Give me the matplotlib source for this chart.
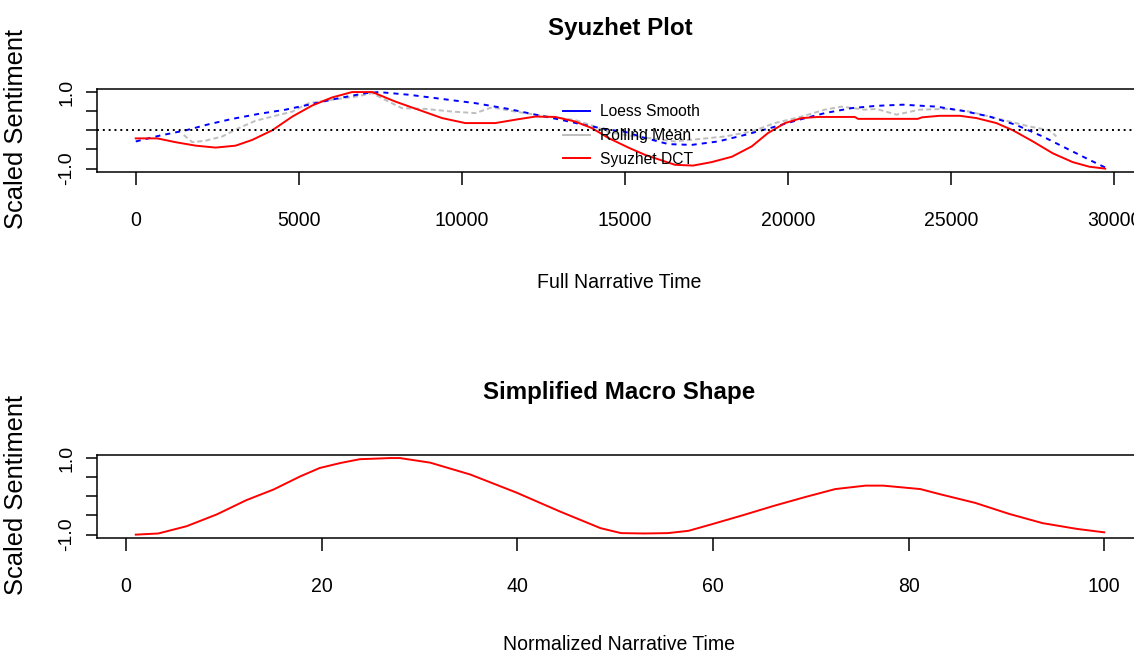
import matplotlib
matplotlib.use("Agg")
import matplotlib.pyplot as plt
from matplotlib import font_manager
from matplotlib.lines import Line2D

### DATA ###
# Full narrative time (sentence index) against scaled sentiment
loess_time = [0, 720, 1530, 2240, 2960, 3770, 4590, 5410, 6220, 7040, 7450, 8370, 9390,
              10410, 11420, 12250, 13060, 13870, 14490, 15000, 15610, 16330, 17040, 17850,
              18670, 19490, 20300, 21120, 21940, 22700, 23510, 24540, 25350, 26170, 26990,
              27800, 28620, 29230, 29716]
loess_values = [-0.29, -0.14, 0.0, 0.16, 0.30, 0.43, 0.54, 0.69, 0.84, 0.97, 1.0, 0.93, 0.82,
                0.71, 0.56, 0.41, 0.27, 0.12, 0.02, -0.04, -0.20, -0.36, -0.38, -0.29,
                -0.12, 0.07, 0.27, 0.45, 0.58, 0.64, 0.67, 0.62, 0.51, 0.36, 0.14,
                -0.16, -0.51, -0.77, -0.97]

rolling_time = [1470, 1730, 2140, 2650, 3160, 3670, 4180, 4800, 5300, 6020, 6740, 7250, 7750,
                8160, 8880, 9700, 10410, 10920, 11630, 12250, 12860, 13470, 14080, 14490,
                15000, 15610, 16530, 17350, 18060, 18880, 19590, 20410, 21120, 21630, 22350,
                22700, 23320, 24030, 24850, 25560, 26170, 26790, 27400, 28010, 28220]
rolling_values = [-0.12, -0.31, -0.27, -0.16, 0.06, 0.25, 0.36, 0.49, 0.71, 0.80, 0.88, 0.97, 0.75,
                  0.58, 0.56, 0.49, 0.45, 0.60, 0.49, 0.41, 0.34, 0.27, 0.10, -0.05,
                  -0.12, -0.19, -0.29, -0.22, -0.16, -0.03, 0.19, 0.36, 0.54, 0.62, 0.54,
                  0.56, 0.41, 0.54, 0.56, 0.49, 0.36, 0.23, 0.10, 0.0, -0.16]

dct_time = [0, 660, 1225, 1840, 2450, 3060, 3570, 4180, 4800, 5410, 6020, 6630, 7250, 7960,
            8660, 9390, 10100, 11020, 11720, 12250, 12860, 13470, 13980, 14490, 15100, 15610,
            16530, 17080, 17650, 18270, 18880, 19380, 19900, 20410, 20910, 22040, 22140, 23970,
            24100, 24640, 25260, 25770, 26380, 26890, 27500, 28110, 28720, 29230, 29716]
dct_values = [-0.21, -0.21, -0.31, -0.40, -0.45, -0.40, -0.25, 0.0, 0.36, 0.65, 0.86, 1.0, 1.0, 0.75,
              0.54, 0.32, 0.19, 0.19, 0.29, 0.36, 0.35, 0.23, 0.06, -0.20, -0.45, -0.64,
              -0.90, -0.92, -0.83, -0.69, -0.42, -0.07, 0.19, 0.32, 0.35, 0.35, 0.30, 0.30,
              0.34, 0.38, 0.38, 0.32, 0.19, 0.0, -0.29, -0.60, -0.83, -0.95, -1.0]

# Simplified macro shape on normalized time 1..100
macro_time = [1, 3.3, 6.2, 9.3, 12.3, 15.1, 17.8, 19.8, 21.9, 23.9, 27, 28, 31.1, 35.2, 39.9,
              44.4, 48.5, 50.6, 53, 55.4, 57.5, 60, 63.1, 66.2, 69.4, 72.5, 75.6, 77.4, 81.2,
              83.3, 86.8, 90.3, 93.7, 97.2, 100]
macro_values = [-1.0, -0.97, -0.78, -0.47, -0.10, 0.18, 0.52, 0.74, 0.87, 0.97, 1.0, 1.0, 0.88,
                0.57, 0.10, -0.40, -0.83, -0.96, -0.97, -0.96, -0.90, -0.72, -0.49, -0.25,
                -0.02, 0.19, 0.28, 0.28, 0.19, 0.05, -0.17, -0.46, -0.70, -0.85, -0.94]

top_ticks = [0, 5000, 10000, 15000, 20000, 25000, 30000]
bottom_ticks = [0, 20, 40, 60, 80, 100]
y_ticks = [-1.0, -0.5, 0.0, 0.5, 1.0]
y_tick_labels = ["-1.0", "", "", "", "1.0"]
legend_labels = ["Loess Smooth", "Rolling Mean", "Syuzhet DCT"]
legend_colors = ["blue", "#BEBEBE", "red"]

### FONTS ###
# Horizontal text in the reference is a narrow sans; rotated text is regular width
names = {f.name for f in font_manager.fontManager.ttflist}
if "Liberation Sans Narrow" in names:
    narrow = "Liberation Sans Narrow"
    shrink = 1.0
else:
    narrow = "Liberation Sans"
    shrink = 0.88
regular = "Liberation Sans"

### FIGURE ###
W, H = 1134, 656
fig = plt.figure(figsize=(W / 100, H / 100), dpi=100)


def box(left, top, right, bottom):
    # axes rectangle from pixel edges (origin top-left)
    return [left / W, 1 - bottom / H, (right - left) / W, (bottom - top) / H]


def style_axes(ax, xticks):
    for s in ax.spines.values():
        s.set_linewidth(1.1)
    ax.set_xticks(xticks, labels=[str(t) for t in xticks], fontfamily=narrow, fontsize=16 * shrink)
    ax.set_yticks(y_ticks, labels=y_tick_labels, rotation=90, va="center",
                  fontfamily=regular, fontsize=14)
    ax.tick_params(axis="x", length=9.7, width=1.1, pad=18.5)
    ax.tick_params(axis="y", length=7.9, width=1.1, pad=7.5)
    ax.set_ylim(-1.08, 1.08)


ax1 = fig.add_axes(box(97, 89, 1144, 171.7))
ax2 = fig.add_axes(box(97, 455, 1143, 537.7))

### TOP: Syuzhet plot ###
ax1.plot(rolling_time, rolling_values, color="#BEBEBE", lw=1.4, linestyle=(0, (2.6, 1.6)))
ax1.plot(loess_time, loess_values, color="blue", lw=1.4, linestyle=(0, (2.6, 2.6)))
ax1.plot(dct_time, dct_values, color="red", lw=1.4)
ax1.axhline(0, color="black", lw=1.4, linestyle=(0, (1, 2)))
ax1.set_xlim(-1188, 30905)
style_axes(ax1, top_ticks)

handles = [Line2D([], [], color=c, lw=1.4) for c in legend_colors]
ax1.legend(handles, legend_labels, loc="center left",
           bbox_to_anchor=(555 / W, 1 - 135.5 / H), bbox_transform=fig.transFigure,
           frameon=False, borderpad=0, handlelength=1.75, handletextpad=0.6,
           labelspacing=0.55, prop={"family": narrow, "size": 12.8 * shrink})

### BOTTOM: simplified macro shape ###
ax2.plot(macro_time, macro_values, color="red", lw=1.4)
ax2.set_xlim(-2.96, 103.96)
style_axes(ax2, bottom_ticks)

### TITLES AND LABELS ###
fig.text(620 / W, 1 - 29 / H, "Syuzhet Plot", ha="center", va="center",
         fontfamily=narrow, fontweight="bold", fontsize=19.7 * shrink)
fig.text(619 / W, 1 - 393 / H, "Simplified Macro Shape", ha="center", va="center",
         fontfamily=narrow, fontweight="bold", fontsize=19.7 * shrink)
fig.text(619 / W, 1 - 282 / H, "Full Narrative Time", ha="center", va="center",
         fontfamily=narrow, fontsize=16 * shrink)
fig.text(619 / W, 1 - 645 / H, "Normalized Narrative Time", ha="center", va="center",
         fontfamily=narrow, fontsize=16 * shrink)
for yc in (129, 495):
    fig.text(16 / W, 1 - yc / H, "Scaled Sentiment", rotation=90, ha="center", va="center",
             fontfamily=regular, fontsize=18.4)

fig.savefig("out.png", dpi=100)
